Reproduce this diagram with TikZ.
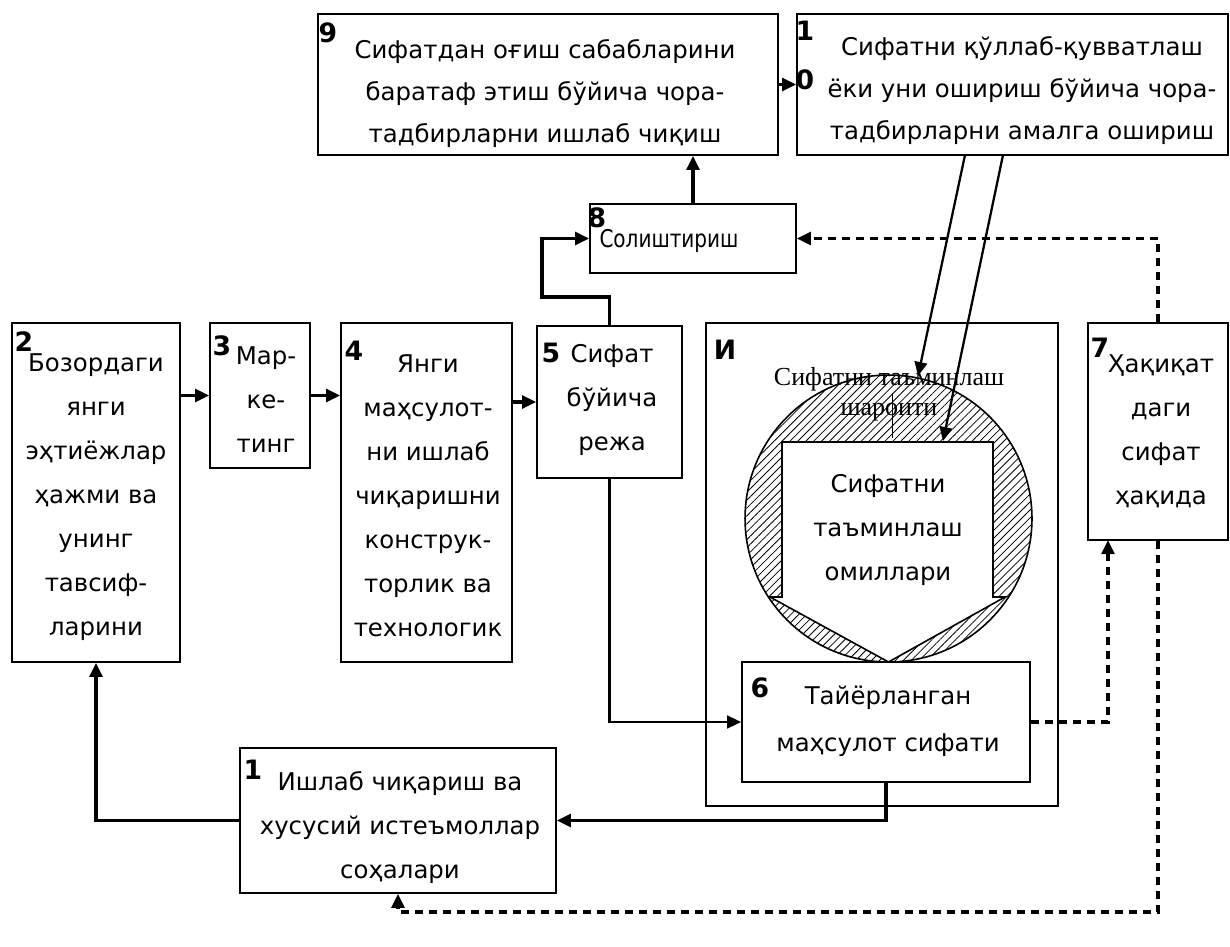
\documentclass[tikz,border=0pt]{standalone}
\usepackage{fontspec}
\setmainfont{DejaVu Sans}
\newfontfamily\serifcyr{Liberation Serif}
\newfontfamily\narrowf{DejaVu Sans}[FakeStretch=0.82]
\usetikzlibrary{arrows.meta,patterns.meta}
\begin{document}
\begin{tikzpicture}[x=0.75pt,y=-0.75pt,
  box/.style={draw,line width=1.2pt,inner sep=0pt},
  txt/.style={align=center,inner sep=0pt,font=\fontsize{18.3}{33}\selectfont},
  txtb/.style={align=center,inner sep=0pt,font=\fontsize{18.3}{31.5}\selectfont},
  num/.style={inner sep=0pt,font=\bfseries\fontsize{20}{20}\selectfont},
  tip/.style={-{Triangle[length=10.5pt,width=9.5pt]}},
  conn/.style={tip,line width=2.6pt},
  mconn/.style={tip,line width=1.8pt},
  dconn/.style={tip,line width=2.3pt,dash pattern=on 6pt off 4.5pt},
  sconn/.style={tip,line width=1.7pt}
]
\useasboundingbox[fill=white] (0,0) rectangle (1230,946);

% boxes
\node[box,minimum width=345pt,minimum height=105.75pt] (b9) at (548,84.5) {};
\node[box,minimum width=323.25pt,minimum height=105.75pt] (b10) at (1012.5,84.5) {};
\node[box,minimum width=154.5pt,minimum height=51.75pt] (b8) at (693,238.5) {};
\node[box,minimum width=126pt,minimum height=254.25pt] (b2) at (96,492.5) {};
\node[box,minimum width=75pt,minimum height=108.75pt] (b3) at (260,395.5) {};
\node[box,minimum width=128.25pt,minimum height=254.25pt] (b4) at (426.5,492.5) {};
\node[box,minimum width=108.75pt,minimum height=114pt] (b5) at (609.5,402) {};
\node[box,minimum width=264pt,minimum height=362.25pt] (fr) at (882,564.5) {};
\node[box,minimum width=105pt,minimum height=162.75pt] (b7) at (1158,431.5) {};
\node[box,minimum width=237pt,minimum height=108.75pt] (b1) at (398,820.5) {};

% circle top text (under hatching)
\node[inner sep=0pt,align=center,font=\serifcyr\fontsize{19.5}{22.5}\selectfont] (ct) at (889,394)
  {Сифатни таъминлаш\\шароити};

% hatched circle
\fill[pattern={Lines[angle=45,distance=4.2pt,line width=0.6pt]},even odd rule]
  (888.5,518.5) circle[radius=107.6pt]
  (782,442) -- (993,442) -- (993,597) -- (1005,597) -- (888.5,662) -- (770,597) -- (782,597) -- cycle;
\draw[line width=1.2pt] (888.5,518.5) circle[radius=107.6pt];
\draw[line width=1.2pt] (782,442) -- (993,442) -- (993,597) -- (1005,597) -- (888.5,662) -- (770,597) -- (782,597) -- cycle;
\draw[line width=0.5pt] (892,393) -- (892,438);
\node[txt] (ti) at (888,530) {Сифатни\\таъминлаш\\омиллари};

\node[box,fill=white,minimum width=216pt,minimum height=90pt] (b6) at (886,722) {};

% texts
\node[txtb] (t9) at (545,94) {Сифатдан оғиш сабабларини\\бaратаф этиш бўйича чора-\\тадбирларни ишлаб чиқиш};
\node[txtb] (t10) at (1022,91) {Сифатни қўллаб-қувватлаш\\ёки уни ошириш бўйича чора-\\тадбирларни амалга ошириш};
\node[txt,font=\narrowf\fontsize{18.3}{33}\selectfont] (t8) at (669,241) {Солиштириш};
\node[txt] (t2) at (96,497) {Бозордаги\\янги\\эҳтиёжлар\\ҳажми ва\\унинг\\тавсиф-\\ларини};
\node[txt] (t3) at (266,400) {Мар-\\ке-\\тинг};
\node[txt] (t4) at (428,496) {Янги\\маҳсулот-\\ни ишлаб\\чиқаришни\\конструк-\\торлик ва\\технологик};
\node[txt] (t5) at (612,400) {Сифат\\бўйича\\режа};
\node[txt] (t7) at (1161,431) {Ҳақиқат\\даги\\сифат\\ҳақида};
\node[txt,font=\fontsize{18.3}{35}\selectfont] (t6) at (888,721) {Тайёрланган\\маҳсулот сифати};
\node[txt] (t1) at (400,828) {Ишлаб чиқариш ва\\хусусий истеъмоллар\\соҳалари};

% numbers
\node[num] (n9) at (328,33) {9};
\node[num] (n10a) at (805,31) {1};
\node[num] (n10b) at (805,80) {0};
\node[num] (n8) at (597,218) {8};
\node[num] (n2) at (24,342) {2};
\node[num] (n3) at (222,346) {3};
\node[num] (n4) at (354,351) {4};
\node[num] (n5) at (551,353) {5};
\node[num] (nI) at (725,350) {И};
\node[num] (n7) at (1100,348) {7};
\node[num] (n6) at (760,688) {6};
\node[num] (n1) at (253,770) {1};

% coordinates
\coordinate (s1) at (965,155);
\coordinate (s2) at (1003,155);
\coordinate (e1) at (918,376);
\coordinate (e2) at (943,441);
\coordinate (c67) at (1108,540);
\coordinate (cb) at (0,912);

% connectors
\draw[conn] (b9.east) -- (b10.west);
\draw[conn] (b8.north) -- (b8.north |- b9.south);
\draw[conn] (b5.north) -- (b5.north |- 0,297) -- (542,297) |- (b8.west);
\draw[conn] (b3.west -| b2.east) -- (b3.west);
\draw[conn] (b3.east) -- (b3.east -| b4.west);
\draw[conn] (b5.west -| b4.east) -- (b5.west);
\draw[mconn] (b5.south) |- (b6.west);
\draw[conn] (b6.south) -- (b6.south |- b1.east) -- (b1.east);
\draw[conn] (b1.west) -| (b2.south);
\draw[sconn] (s1) -- (e1);
\draw[sconn] (s2) -- (e2);
\draw[dconn] (b7.north) |- (b8.east);
\draw[dconn] (b6.east) -| (c67);
\draw[dconn] (b7.south) -- (b7.south |- cb) -| (b1.south);
\end{tikzpicture}
\end{document}
